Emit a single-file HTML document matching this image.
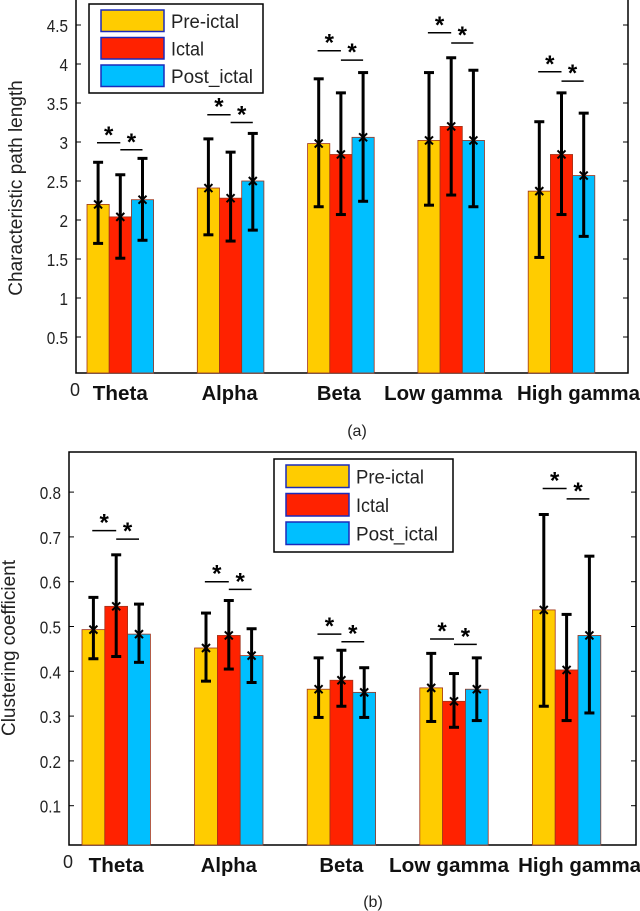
<!DOCTYPE html>
<html><head><meta charset="utf-8">
<style>
html,body{margin:0;padding:0;background:#fff;}
svg{display:block;}
text{font-family:"Liberation Sans",sans-serif;}
</style></head>
<body>
<svg id="fig" width="640" height="911" viewBox="0 0 640 911" xmlns="http://www.w3.org/2000/svg"></svg>
<script>
// ---- Chart (a) data ----
const catsA = ["Theta","Alpha","Beta","Low gamma","High gamma"];
const preA  = [2.20, 2.41, 2.98, 3.02, 2.37];
const ictA  = [2.04, 2.28, 2.84, 3.20, 2.84];
const postA = [2.26, 2.50, 3.06, 3.02, 2.57];
const preLoA = [1.70, 1.81, 2.17, 2.19, 1.52];
const preHiA = [2.74, 3.04, 3.81, 3.89, 3.26];
const ictLoA = [1.51, 1.73, 2.07, 2.32, 2.07];
const ictHiA = [2.58, 2.87, 3.63, 4.08, 3.63];
const postLoA = [1.74, 1.87, 2.24, 2.17, 1.79];
const postHiA = [2.79, 3.11, 3.89, 3.92, 3.37];
const sig1A = [2.99, 3.35, 4.17, 4.40, 3.90];
const sig2A = [2.90, 3.25, 4.05, 4.27, 3.78];
const ticksA = [0.5,1,1.5,2,2.5,3,3.5,4,4.5];
const tickLabelsA = ["0.5","1","1.5","2","2.5","3","3.5","4","4.5"];

// ---- Chart (b) data ----
const catsB = ["Theta","Alpha","Beta","Low gamma","High gamma"];
const preB  = [0.493, 0.452, 0.360, 0.363, 0.537];
const ictB  = [0.545, 0.480, 0.380, 0.333, 0.403];
const postB = [0.483, 0.435, 0.353, 0.360, 0.480];
const preLoB = [0.428, 0.378, 0.297, 0.288, 0.322];
const preHiB = [0.565, 0.530, 0.430, 0.440, 0.750];
const ictLoB = [0.433, 0.405, 0.322, 0.275, 0.290];
const ictHiB = [0.660, 0.558, 0.447, 0.395, 0.527];
const postLoB = [0.420, 0.375, 0.297, 0.290, 0.307];
const postHiB = [0.550, 0.495, 0.408, 0.430, 0.657];
const sig1B = [0.714, 0.600, 0.483, 0.472, 0.808];
const sig2B = [0.695, 0.583, 0.466, 0.460, 0.785];
const ticksB = [0.1,0.2,0.3,0.4,0.5,0.6,0.7,0.8];
const tickLabelsB = ["0.1","0.2","0.3","0.4","0.5","0.6","0.7","0.8"];

const seriesNames = ["Pre-ictal","Ictal","Post_ictal"];
const colors = ["#FFCC00","#FF2200","#00BFFF"];
const NS = "http://www.w3.org/2000/svg";
const svg = document.getElementById("fig");

function el(tag, attrs, parent, txt){
  const e = document.createElementNS(NS, tag);
  for (const k in attrs) e.setAttribute(k, attrs[k]);
  if (txt !== undefined) e.textContent = txt;
  (parent||svg).appendChild(e);
  return e;
}

function star(g, cx, cy){
  const s = el("text",{x:cx,y:cy+11,"text-anchor":"middle","font-size":"24","font-weight":"bold",fill:"#000"},g,"*");
  
  
}

function drawChart(cfg){
  const g = el("g",{});
  
  
  const y = v => cfg.y0 - cfg.ppu*v;
  const groupX = i => cfg.gx0 + i*cfg.gstep;
  const box = el("rect",{x:cfg.left,y:cfg.top,width:cfg.right-cfg.left,height:cfg.bottom-cfg.top,fill:"none",stroke:"#000","stroke-width":"1.5"},g);
  
  
  cfg.ticks.forEach((t,i)=>{
    const ty = y(t);
    const tl = el("line",{x1:cfg.left,x2:cfg.left+5,y1:ty,y2:ty,stroke:"#000","stroke-width":"1"},g);
    
    
    const tr = el("line",{x1:cfg.right-5,x2:cfg.right,y1:ty,y2:ty,stroke:"#000","stroke-width":"1"},g);
    
    
    const lb = el("text",{x:cfg.left-8,y:ty+7,"text-anchor":"end","font-size":"18",fill:"#222",transform:`translate(${cfg.left-8},0) scale(0.85,1) translate(${-(cfg.left-8)},0)`},g,cfg.tickLabels[i]);
    
    
  });
  const z = el("text",{x:cfg.left-1,y:cfg.bottom+23,"text-anchor":"middle","font-size":"18",fill:"#222"},g,"0");
  
  
  const yt = el("text",{x:0,y:0,"text-anchor":"middle","font-size":cfg.ytSize,fill:"#222",transform:`translate(${cfg.ytx},${cfg.yty}) rotate(-90)`},g,cfg.ytitle);
  
  
  const vals = [cfg.pre,cfg.ict,cfg.post];
  const los = [cfg.preLo,cfg.ictLo,cfg.postLo];
  const his = [cfg.preHi,cfg.ictHi,cfg.postHi];
  cfg.cats.forEach((c,i)=>{
    const gx = groupX(i);
    for (let s=0;s<3;s++){
      const bx = gx + s*cfg.bw;
      const v = vals[s][i];
      const r = el("rect",{x:bx,y:y(v),width:cfg.bw,height:cfg.bottom-y(v),fill:colors[s],stroke:"#a0331a","stroke-width":"0.8"},g);
      
      
    }
    for (let s=0;s<3;s++){
      const cx = gx + s*cfg.bw + cfg.bw/2;
      const lo = y(los[s][i]), hi = y(his[s][i]);
      const eg = el("g",{stroke:"#000","stroke-width":"3"},g);
      
      
      el("line",{x1:cx,x2:cx,y1:lo,y2:hi},eg);
      el("line",{x1:cx-5,x2:cx+5,y1:lo,y2:lo},eg);
      el("line",{x1:cx-5,x2:cx+5,y1:hi,y2:hi},eg);
      const my = y(vals[s][i]);
      const m = el("path",{d:`M${cx-4},${my-4}L${cx+4},${my+4}M${cx-4},${my+4}L${cx+4},${my-4}`,stroke:"#000","stroke-width":"2"},g);
      
      
    }
    const c0 = gx + cfg.bw*0.45, c1 = gx + cfg.bw*1.5, c2 = gx + cfg.bw*2.5;
    const s1 = el("line",{x1:c0,x2:c1,y1:y(cfg.sig1[i]),y2:y(cfg.sig1[i]),stroke:"#000","stroke-width":"1.5"},g);
    
    
    star(g,(c0+c1)/2,y(cfg.sig1[i])-11);
    const s2 = el("line",{x1:c1,x2:c2,y1:y(cfg.sig2[i]),y2:y(cfg.sig2[i]),stroke:"#000","stroke-width":"1.5"},g);
    
    
    star(g,(c1+c2)/2,y(cfg.sig2[i])-11);
    const cl = el("text",{x:gx+cfg.bw*1.5+cfg.labOff[i],y:cfg.bottom+27,"text-anchor":"middle","font-size":"20","font-weight":"bold",fill:"#111",textLength:cfg.labLen[i],lengthAdjust:"spacingAndGlyphs"},g,c);
    
    
  });
  const L = cfg.legend;
  const lg = el("g",{},g);
  
  
  el("rect",{x:L.x,y:L.y,width:L.w,height:L.h,fill:"#fff",stroke:"#000","stroke-width":"1.5"},lg);
  seriesNames.forEach((n,s)=>{
    const ry = L.y + 6 + s*L.rh;
    const sw = el("rect",{x:L.x+12,y:ry,width:63,height:L.rh-6,fill:colors[s],stroke:"#1a2bbb","stroke-width":"1.5"},lg);
    
    
    const t = el("text",{x:L.x+82,y:ry+(L.rh-6)/2+7,"font-size":"19",fill:"#222",textLength:L.tl[s],lengthAdjust:"spacingAndGlyphs"},lg,n);
    
    
  });
  const cap = el("text",{x:cfg.capX,y:cfg.capY,"text-anchor":"middle","font-size":"16",fill:"#222"},g,cfg.caption);
  
  
}

drawChart({name:"chart-a",cats:catsA,pre:preA,ict:ictA,post:postA,preLo:preLoA,preHi:preHiA,ictLo:ictLoA,ictHi:ictHiA,postLo:postLoA,postHi:postHiA,
  sig1:sig1A,sig2:sig2A,ticks:ticksA,tickLabels:tickLabelsA,
  left:76,right:628,top:-1,bottom:373,y0:376,ppu:78,gx0:87,gstep:110.3,bw:22.2,
  labOff:[0,-1,-2,-8,17],labLen:[55,56,44,118,123],ytitle:"Characteristic path length",ytSize:19,ytx:22,yty:188,
  legend:{x:89,y:4,w:174,h:89,rh:27.5,tl:[68,33,82]},caption:"(a)",capX:357,capY:436});
drawChart({name:"chart-b",cats:catsB,pre:preB,ict:ictB,post:postB,preLo:preLoB,preHi:preHiB,ictLo:ictLoB,ictHi:ictHiB,postLo:postLoB,postHi:postHiB,
  sig1:sig1B,sig2:sig2B,ticks:ticksB,tickLabels:tickLabelsB,
  left:69,right:636,top:452,bottom:845,y0:850.5,ppu:448,gx0:82,gstep:112.6,bw:22.8,
  labOff:[0,0,0,-5,13],labLen:[55,56,44,120,123],ytitle:"Clustering coefficient",ytSize:19,ytx:15,yty:648,
  legend:{x:274,y:459,w:179,h:93,rh:28.5,tl:[68,33,82]},caption:"(b)",capX:373,capY:907});
</script>
</body></html>
